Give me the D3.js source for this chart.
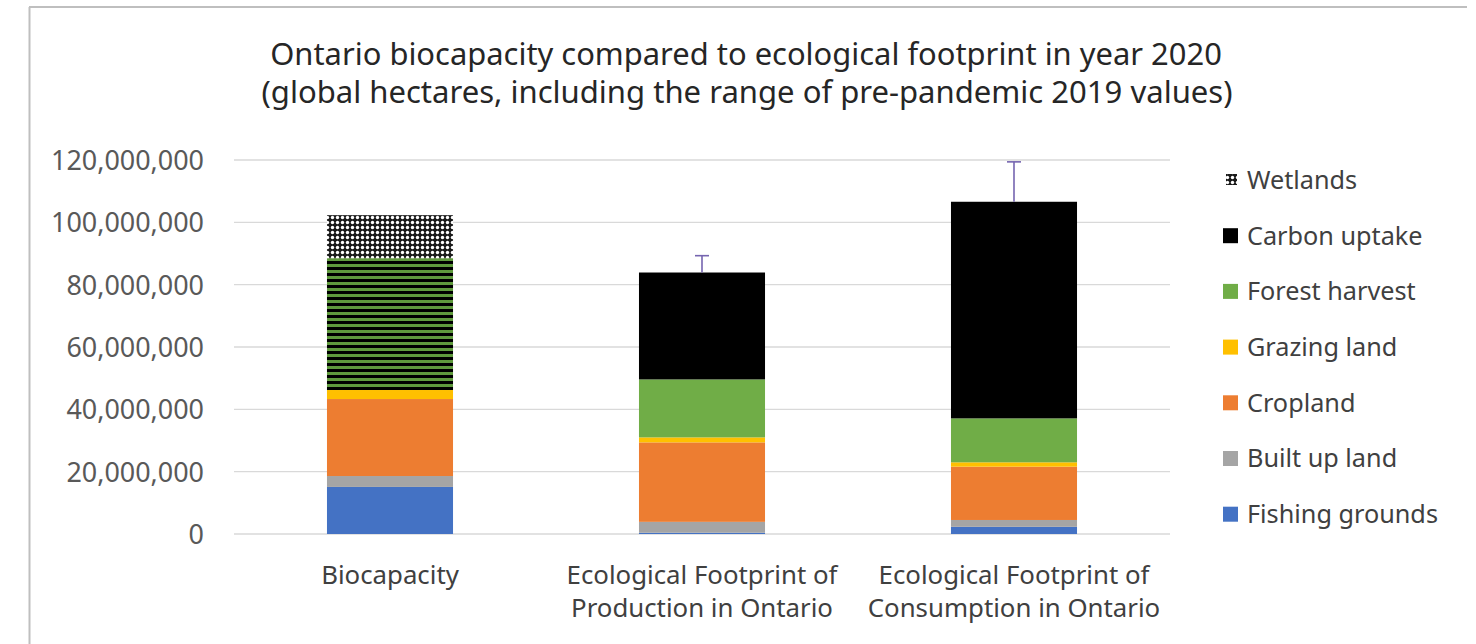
<!DOCTYPE html>
<html>
<head>
<meta charset="utf-8">
<script src="https://cdn.jsdelivr.net/npm/d3@7/dist/d3.min.js"></script>
<style>
  html, body { margin: 0; padding: 0; background: #fff; }
  svg { display: block; }
  text { font-family: "Noto Sans", "Open Sans", sans-serif; }
</style>
</head>
<body>
<svg id="chart" width="1476" height="644"></svg>
<script>
// ---------------- DATA ----------------
const titleLines = [
  "Ontario biocapacity compared to ecological footprint in year 2020",
  "(global hectares, including the range of pre-pandemic 2019 values)"
];
const categories = ["Biocapacity", "Ecological Footprint of Production in Ontario", "Ecological Footprint of Consumption in Ontario"];
const categoryLines = [["Biocapacity"], ["Ecological Footprint of", "Production in Ontario"], ["Ecological Footprint of", "Consumption in Ontario"]];
const seriesNames = ["Fishing grounds", "Built up land", "Cropland", "Grazing land", "Forest harvest", "Carbon uptake", "Wetlands"];
const fishingGrounds = [15100000, 400000, 2300000];
const builtUpLand   = [3500000, 3500000, 2200000];
const cropland      = [24700000, 25500000, 17100000];
const grazingLand   = [2900000, 1600000, 1400000];
const forestHarvest = [42300000, 18600000, 14100000];
const carbonUptake  = [0, 34300000, 69500000];
const wetlands      = [13800000, 0, 0];
const range2019High = [null, 89300000, 119400000];
const yTicks = [0, 20000000, 40000000, 60000000, 80000000, 100000000, 120000000];

// ---------------- STYLE ----------------
const colors = {
  "Fishing grounds": "#4472C4",
  "Built up land": "#A5A5A5",
  "Cropland": "#ED7D31",
  "Grazing land": "#FFC000",
  "Forest harvest": "#70AD47",
  "Carbon uptake": "#000000",
  "Wetlands": "url(#wetPattern)"
};

const svg = d3.select("#chart");
const defs = svg.append("defs");
// wetlands pattern: white dots on dark grid
const wp = defs.append("pattern").attr("id", "wetPattern").attr("patternUnits", "userSpaceOnUse")
  .attr("width", 5).attr("height", 5);
wp.append("rect").attr("width", 5).attr("height", 5).attr("fill", "#1a1a1a");
wp.append("circle").attr("cx", 2.5).attr("cy", 2.5).attr("r", 1.7).attr("fill", "#ffffff");
// striped forest pattern for biocapacity
const sp = defs.append("pattern").attr("id", "stripePattern").attr("patternUnits", "userSpaceOnUse")
  .attr("width", 6).attr("height", 6);
sp.append("rect").attr("width", 6).attr("height", 6).attr("fill", "#000000");
sp.append("rect").attr("y", 0).attr("width", 6).attr("height", 3).attr("fill", "#5f9a3d");

// frame
svg.append("line").attr("x1", 29.5).attr("x2", 29.5).attr("y1", 7).attr("y2", 644)
  .attr("stroke", "#bfbfbf").attr("stroke-width", 2);
svg.append("line").attr("x1", 29).attr("x2", 1467).attr("y1", 7).attr("y2", 7)
  .attr("stroke", "#bfbfbf").attr("stroke-width", 2);

function fitWidth(sel, target) {
  const fs = parseFloat(sel.attr("font-size"));
  const w = sel.node().getComputedTextLength();
  sel.attr("font-size", (fs * target / w).toFixed(2));
}

// title
const t1 = svg.append("text").attr("x", 746).attr("y", 65).attr("text-anchor", "middle")
  .attr("font-size", 26).attr("fill", "#262626").text(titleLines[0]);
fitWidth(t1, 952);
const t2 = svg.append("text").attr("x", 747).attr("y", 103).attr("text-anchor", "middle")
  .attr("font-size", 26).attr("fill", "#262626").text(titleLines[1]);
fitWidth(t2, 971);

// scales
const x = d3.scaleBand().domain(categories).range([234, 1170]).paddingInner(0.596).paddingOuter(0.298);
const y = d3.scaleLinear().domain([0, 120000000]).range([534, 160]);

// gridlines
svg.append("g").selectAll("line").data(yTicks).join("line")
  .attr("x1", 234).attr("x2", 1170)
  .attr("y1", d => y(d)).attr("y2", d => y(d))
  .attr("stroke", "#d9d9d9").attr("stroke-width", 1.3);

// y axis labels
const yAxis = d3.axisLeft(y).tickValues(yTicks).tickFormat(d3.format(",")).tickSize(0).tickPadding(0);
const gy = svg.append("g").attr("transform", "translate(204,0)").call(yAxis);
gy.select(".domain").remove();
gy.selectAll("text").attr("font-size", 20).attr("fill", "#595959").attr("dy", "0.35em")
  .style("font-family", '"Noto Sans", "Open Sans", sans-serif');
const t120 = gy.selectAll("text").filter(d => d === 120000000);
const sz = 20 * 153 / t120.node().getComputedTextLength();
gy.selectAll("text").attr("font-size", sz.toFixed(2));

// stacked bars
const seriesValues = [fishingGrounds, builtUpLand, cropland, grazingLand, forestHarvest, carbonUptake, wetlands];
const table = categories.map((c, i) => {
  const row = { category: c };
  seriesNames.forEach((s, j) => row[s] = seriesValues[j][i]);
  return row;
});
const stack = d3.stack().keys(seriesNames)(table);
svg.append("g").selectAll("g").data(stack).join("g")
  .selectAll("rect").data(d => d.map(v => ({ key: d.key, v }))).join("rect")
  .attr("x", d => x(d.v.data.category))
  .attr("width", x.bandwidth())
  .attr("y", d => y(d.v[1]))
  .attr("height", d => y(d.v[0]) - y(d.v[1]))
  .attr("fill", d => (d.key === "Forest harvest" && d.v.data.category === "Biocapacity") ? "url(#stripePattern)" : colors[d.key]);

// error bars (upper range of 2019)
const eb = svg.append("g");
categories.forEach((c, i) => {
  if (range2019High[i] == null) return;
  const total = seriesValues.reduce((a, s) => a + s[i], 0);
  const cx = x(c) + x.bandwidth() / 2;
  eb.append("line").attr("x1", cx).attr("x2", cx).attr("y1", y(total)).attr("y2", y(range2019High[i]))
    .attr("stroke", "#7565b0").attr("stroke-width", 1.6);
  eb.append("line").attr("x1", cx - 7).attr("x2", cx + 7).attr("y1", y(range2019High[i])).attr("y2", y(range2019High[i]))
    .attr("stroke", "#7565b0").attr("stroke-width", 1.6);
});

// category labels
const gx = svg.append("g");
categories.forEach((c, i) => {
  const cx = x(c) + x.bandwidth() / 2;
  categoryLines[i].forEach((ln, k) => {
    gx.append("text").attr("class", "cat").attr("x", cx).attr("y", 584 + k * 33)
      .attr("text-anchor", "middle").attr("font-size", 20).attr("fill", "#404040").text(ln);
  });
});
const refCat = gx.selectAll("text").filter(function () { return d3.select(this).text() === "Ecological Footprint of"; });
const csz = 20 * 271 / refCat.node().getComputedTextLength();
gx.selectAll("text").attr("font-size", csz.toFixed(2));

// legend (top to bottom: reverse stacking order)
const legendOrder = seriesNames.slice().reverse();
const lg = svg.append("g");
legendOrder.forEach((s, i) => {
  const cy = 180 + i * 55.7;
  if (s === "Wetlands") {
    lg.append("rect").attr("x", 1226).attr("y", cy - 6).attr("width", 11).attr("height", 11).attr("fill", colors[s]);
  } else {
    lg.append("rect").attr("x", 1223).attr("y", cy - 7.5).attr("width", 15).attr("height", 15).attr("fill", colors[s]);
  }
  lg.append("text").attr("x", 1247).attr("y", cy).attr("dy", "0.35em")
    .attr("font-size", 21).attr("fill", "#404040").text(s);
});
const refLg = lg.selectAll("text").filter(function () { return d3.select(this).text() === "Fishing grounds"; });
const lsz = 21 * 191 / refLg.node().getComputedTextLength();
lg.selectAll("text").attr("font-size", lsz.toFixed(2));
</script>
</body>
</html>
